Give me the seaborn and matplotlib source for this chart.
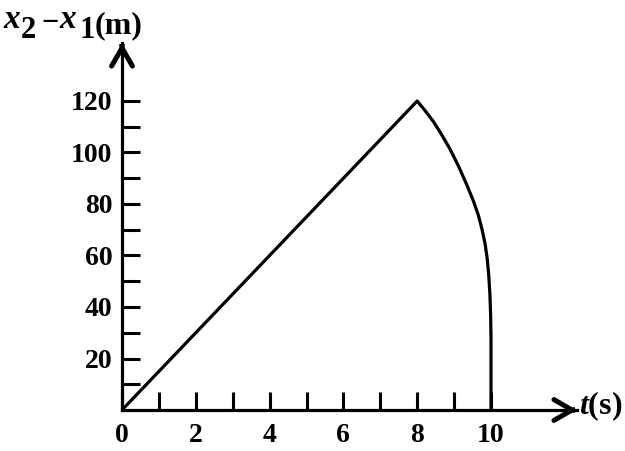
import matplotlib
matplotlib.use("Agg")
import matplotlib.pyplot as plt
import seaborn as sns
import pandas as pd

# --- data ---
t_s = [0, 8, 8.2, 8.44, 8.66, 8.89, 9.11, 9.34, 9.52, 9.66, 9.76, 9.84, 9.90, 9.94, 9.97, 9.99, 10, 10, 10]
gap_m = [0, 120, 116.5, 112, 107, 101.3, 95, 87.6, 81.3, 75.5, 70, 64.5, 58.5, 52, 45, 37, 28, 15, 0]
x_labels = [0, 2, 4, 6, 8, 10]
x_ticks_all = list(range(0, 11))
y_labels = [20, 40, 60, 80, 100, 120]
y_ticks_all = list(range(10, 121, 10))

df = pd.DataFrame({"t": t_s, "gap": gap_m})

sns.set_style("white")
plt.rcParams["font.family"] = ["Liberation Serif", "DejaVu Serif"]
plt.rcParams["font.weight"] = "bold"
plt.rcParams["mathtext.fontset"] = "custom"
plt.rcParams["mathtext.rm"] = "Liberation Serif:bold"
plt.rcParams["mathtext.it"] = "Liberation Serif:italic:bold"
plt.rcParams["text.color"] = "black"
plt.rcParams["xtick.color"] = "black"
plt.rcParams["ytick.color"] = "black"

W, H = 625, 451
fig = plt.figure(figsize=(W / 100, H / 100), dpi=100)
ox, oy = 122, 410
x_end, y_end = 577, 43
ax = fig.add_axes([ox / W, (H - oy) / H, (x_end - ox) / W, (oy - y_end) / H])
px_per_s = 36.9
px_per_m = 2.575
ax.set_xlim(0, (x_end - ox) / px_per_s)
ax.set_ylim(0, (oy - y_end) / px_per_m)

sns.lineplot(data=df, x="t", y="gap", ax=ax, sort=False, estimator=None,
             color="black", linewidth=2.3)

for side in ["top", "right"]:
    ax.spines[side].set_visible(False)
for side in ["left", "bottom"]:
    ax.spines[side].set_linewidth(2.3)
    ax.spines[side].set_color("black")

# chevron arrow heads at the axis ends
head = dict(arrowstyle="->,head_length=1.3,head_width=0.75", color="black",
            linewidth=3.6, shrinkA=0, shrinkB=0, joinstyle="miter")
ax.annotate("", xy=(1, 0), xytext=(0.995, 0), xycoords="axes fraction",
            textcoords="axes fraction", arrowprops=head, annotation_clip=False)
ax.annotate("", xy=(0, 1), xytext=(0, 0.995), xycoords="axes fraction",
            textcoords="axes fraction", arrowprops=head, annotation_clip=False)

ax.set_xticks(x_ticks_all)
ax.set_xticklabels([str(v) if v in x_labels else "" for v in x_ticks_all])
ax.set_yticks(y_ticks_all)
ax.set_yticklabels([str(v) if v in y_labels else "" for v in y_ticks_all])
ax.tick_params(axis="both", direction="in", length=13, width=2.2, color="black",
               labelsize=20, labelcolor="black", bottom=True, left=True)
ax.tick_params(axis="x", pad=9)
ax.tick_params(axis="y", pad=7)
ax.set_xlabel("")
ax.set_ylabel("")

# y axis title, with full size subscripts as in the source
parts = [("x", "italic", 24, 3, 28), ("2", "normal", 22, 21, 38), ("\u2212", "normal", 22, 41, 31),
         ("x", "italic", 24, 59, 28), ("1", "normal", 22, 80, 38), ("(m)", "normal", 23, 95, 33)]
for s, style, fs, px, py in parts:
    fig.text(px / W, 1 - py / H, s, fontsize=fs, style=style, ha="left", va="baseline")
fig.text(579 / W, 1 - 414 / H, r"$t$(s)", fontsize=23, ha="left", va="baseline")

fig.savefig("out.png", dpi=100)
